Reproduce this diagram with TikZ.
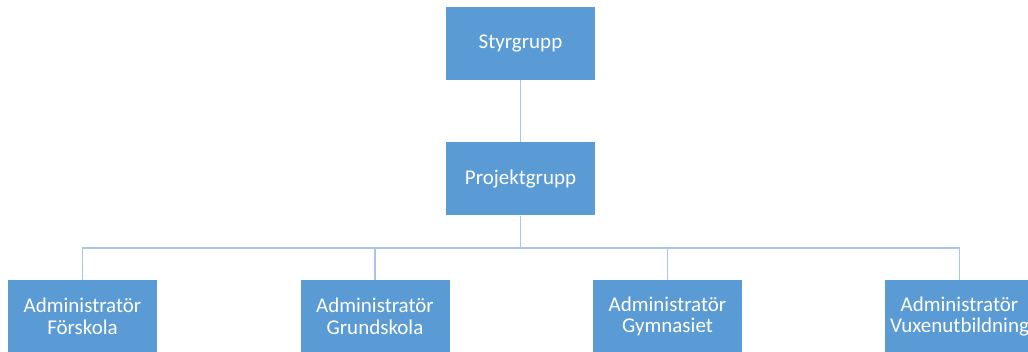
\documentclass[tikz,border=0pt]{standalone}
\usepackage{fontspec}
\setmainfont{Carlito}
\definecolor{boxblue}{HTML}{5B9BD5}
\definecolor{linkblue}{HTML}{A9C6E6}
\begin{document}
\begin{tikzpicture}[x=1pt,y=1pt,
  orgbox/.style={fill=boxblue,draw=none,minimum width=149pt,minimum height=73pt,inner sep=0pt,
    text=white,font=\fontsize{21}{21.5}\selectfont,align=center},
  link/.style={draw=linkblue,line width=1.6pt}]
\useasboundingbox (0,0) rectangle (1028,-352);
\clip (0,0) rectangle (1028,-352);
\node[orgbox] (sty) at (520.5,-43.5) {Styrgrupp};
\node[orgbox] (pro) at (520.5,-179) {Projektgrupp};
\node[orgbox] (fo) at (82.5,-316.5) {Administratör\\Förskola};
\node[orgbox] (gr) at (375,-316.5) {Administratör\\Grundskola};
\node[orgbox] (gy) at (667.5,-316.5) {Administratör\\Gymnasiet};
\node[orgbox] (vu) at (959.5,-316.5) {Administratör\\Vuxenutbildning};
\coordinate (bus) at (520.5,-248);
\draw[link] (sty) -- (pro);
\draw[link] (pro) -- (bus);
\foreach \n in {fo,gr,gy,vu}{
  \draw[link] (bus) -| (\n.north);
}
\end{tikzpicture}
\end{document}
